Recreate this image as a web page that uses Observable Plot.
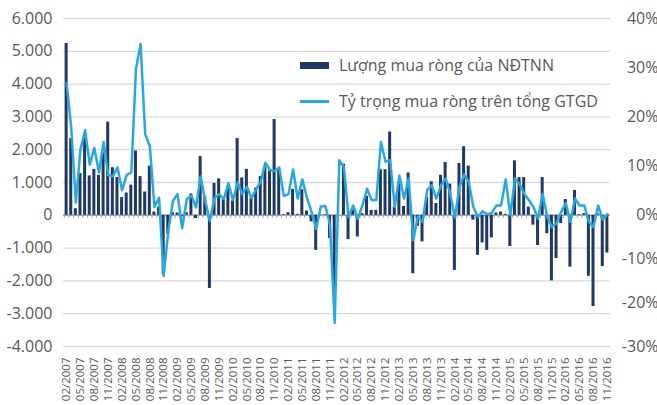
<!DOCTYPE html>
<html><head><meta charset="utf-8">
<script src="https://cdn.jsdelivr.net/npm/d3@7"></script>
<script src="https://cdn.jsdelivr.net/npm/@observablehq/plot@0.6"></script>
<style>
body{margin:0;background:#fff;}
#wrap{position:relative;width:657px;height:405px;font-family:"Open Sans",sans-serif;overflow:hidden;}
.legend{position:absolute;left:300px;color:#595959;font-size:16px;line-height:22px;display:flex;align-items:center;white-space:nowrap;}
.sw-bar{width:29px;height:7px;background:#1f3864;margin-right:10px}
.sw-line{width:29px;height:3px;background:#29a8e0;margin-right:10px}
</style></head><body><div id="wrap"></div>
<script>
const months = [
"02/2007","03/2007","04/2007","05/2007","06/2007","07/2007","08/2007","09/2007","10/2007","11/2007","12/2007",
"01/2008","02/2008","03/2008","04/2008","05/2008","06/2008","07/2008","08/2008","09/2008","10/2008","11/2008","12/2008",
"01/2009","02/2009","03/2009","04/2009","05/2009","06/2009","07/2009","08/2009","09/2009","10/2009","11/2009","12/2009",
"01/2010","02/2010","03/2010","04/2010","05/2010","06/2010","07/2010","08/2010","09/2010","10/2010","11/2010","12/2010",
"01/2011","02/2011","03/2011","04/2011","05/2011","06/2011","07/2011","08/2011","09/2011","10/2011","11/2011","12/2011",
"01/2012","02/2012","03/2012","04/2012","05/2012","06/2012","07/2012","08/2012","09/2012","10/2012","11/2012","12/2012",
"01/2013","02/2013","03/2013","04/2013","05/2013","06/2013","07/2013","08/2013","09/2013","10/2013","11/2013","12/2013",
"01/2014","02/2014","03/2014","04/2014","05/2014","06/2014","07/2014","08/2014","09/2014","10/2014","11/2014","12/2014",
"01/2015","02/2015","03/2015","04/2015","05/2015","06/2015","07/2015","08/2015","09/2015","10/2015","11/2015","12/2015",
"01/2016","02/2016","03/2016","04/2016","05/2016","06/2016","07/2016","08/2016","09/2016","10/2016","11/2016"
];
// Lượng mua ròng của NĐTNN (tỷ đồng)
const netBuy = [
5240, 2340, 200, 1270, 2350, 1200, 1400, 1220, 1900, 2840,
1450, 1150, 540, 680, 920, 1960, 1180, 710, 1500, 100,
250, -1800, -580, 80, 70, -50, 80, 650, -100, 1790,
560, -2230, 970, 1110, 490, 900, 440, 2340, 1140, 1400,
520, 830, 1180, 1470, 1360, 2920, 1420, 20, 80, 790,
30, 780, 130, -200, -1070, 10, 20, -710, -2250, 0,
1560, -740, 150, -660, 50, 580, 150, 150, 1390, 1390,
2540, 250, 1000, 270, 1290, -1780, -340, -810, 540, 1020,
360, 1220, 1610, 950, -1680, 1580, 2090, 1500, -150, -1220,
-840, -1070, -690, 70, 100, 30, -950, 1660, 1150, 1150,
250, -300, -920, 1150, -560, -2000, -1320, -250, 480, -1580,
760, 20, 50, -1860, -2780, 40, -1560, -1150
];
// Tỷ trọng mua ròng trên tổng GTGD (%)
const share = [
26.9, 17.8, 2.6, 13.4, 17.3, 10.3, 13.7, 8.7, 14.9, 8.2,
7.9, 9.7, 5.1, 8.2, 8.7, 29.7, 34.8, 16.5, 14.1, 1.7,
3.6, -13.9, -3.6, 2.9, 4.3, -3.0, 3.3, 4.0, 1.6, 7.9,
2.9, -1.3, 3.5, 4.3, 3.3, 6.5, 3.1, 6.7, 4.3, 5.8,
3.5, 5.3, 6.8, 10.7, 9.2, 9.0, 9.7, 3.9, 4.3, 9.3,
3.4, 7.3, 3.6, 0.7, -3.1, 1.8, 1.9, -2.3, -24.6, 11.2,
9.8, -0.4, 2.0, -0.8, 2.0, 5.4, 3.1, 3.1, 14.9, 10.9,
11.2, 1.7, 8.1, 3.4, 7.5, -5.7, -0.3, -1.5, 5.1, 6.1,
3.4, 6.1, 7.5, 4.4, -0.5, 5.8, 8.3, 6.8, 1.7, -0.4,
0.8, 0.2, 0.5, 2.0, 2.0, 7.3, 0, 7.5, 6.3, 4.4,
3.1, 1.7, -0.8, 4.4, -0.4, -2.7, -1.8, 0.7, 2.5, -1.5,
3.4, 2.0, 2.0, -1.5, -2.7, 2.0, -1.0, 0.2
];
const leftTicks = [-4000, -3000, -2000, -1000, 0, 1000, 2000, 3000, 4000, 5000, 6000];
const rightTicks = [-30, -20, -10, 0, 10, 20, 30, 40];
const labelMonths = months.filter((d, i) => i % 3 === 0);
const legendLabels = ["Lượng mua ròng của NĐTNN", "Tỷ trọng mua ròng trên tổng GTGD"];

const barColor = "#1f3864", lineColor = "#29a8e0", textColor = "#595959";
const W = 657, H = 405, mL = 63, mR = 47, mT = 18, mB = 59;
const step = (W - mL - mR) / months.length;

// secondary axis mapped onto primary units (0% aligned with 0)
const pctToY = d3.scaleLinear().domain([-30, 0, 40]).range([-4000, 0, 6000]);
const data = months.map((m, i) => ({month: m, net: netBuy[i], pct: share[i], yl: pctToY(share[i])}));
const fmtK = d => d3.format(",")(d).replace(/,/g, ".").replace("\u2212", "-");

const chart = Plot.plot({
  width: W, height: H, marginLeft: mL, marginRight: mR, marginTop: mT, marginBottom: mB,
  style: {fontFamily: "'Open Sans', sans-serif", color: textColor, background: "white", overflow: "visible"},
  x: {type: "band", domain: months, padding: 0.35, axis: null, label: null},
  y: {domain: [-4000, 6000], axis: null, label: null},
  marks: [
    Plot.gridY(leftTicks, {stroke: "#d9d9d9", strokeOpacity: 1, strokeWidth: 1.3}),
    Plot.ruleY([0], {stroke: "#a6a6a6", strokeWidth: 1.6}),
    Plot.ruleX(months, {x: d => d, y1: 0, y2: -100, dx: -step / 2, stroke: "#a6a6a6", strokeWidth: 1}),
    Plot.barY(data, {x: "month", y: "net", fill: barColor}),
    Plot.line(data, {x: "month", y: "yl", stroke: lineColor, strokeWidth: 2.5, strokeLinejoin: "round"}),
    Plot.axisY(leftTicks, {anchor: "left", tickSize: 0, tickPadding: 11, tickFormat: fmtK, fontSize: 16, label: null}),
    Plot.text(rightTicks, {y: d => pctToY(d), text: d => d + "%", frameAnchor: "right", textAnchor: "end", dx: 48, fontSize: 16, fill: textColor}),
    Plot.axisX(labelMonths, {anchor: "bottom", tickSize: 0, tickPadding: 11, tickRotate: -90, fontSize: 11.5, label: null})
  ]
});
const wrap = document.getElementById("wrap");
wrap.appendChild(chart);

const l1 = document.createElement("div");
l1.className = "legend"; l1.style.top = "54px";
l1.innerHTML = `<span class="sw-bar"></span><span>${legendLabels[0]}</span>`;
const l2 = document.createElement("div");
l2.className = "legend"; l2.style.top = "90px";
l2.innerHTML = `<span class="sw-line"></span><span>${legendLabels[1]}</span>`;
wrap.appendChild(l1); wrap.appendChild(l2);
</script></body></html>
